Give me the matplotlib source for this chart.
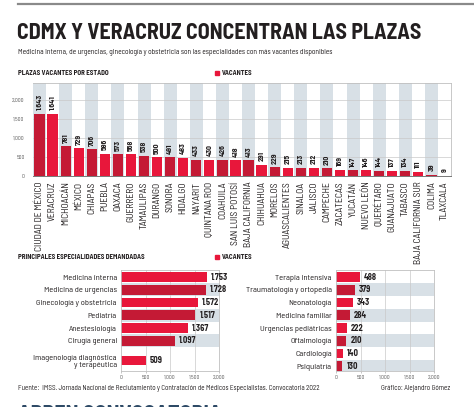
import matplotlib
matplotlib.use("Agg")
import matplotlib.pyplot as plt
from matplotlib.lines import Line2D
from matplotlib.ticker import FuncFormatter

plt.rcParams['font.family'] = ['Barlow Semi Condensed', 'DejaVu Sans']

# datos
estados = ['CIUDAD DE MÉXICO', 'VERACRUZ', 'MICHOACÁN', 'MÉXICO', 'CHIAPAS', 'PUEBLA', 'OAXACA',
           'GUERRERO', 'TAMAULIPAS', 'DURANGO', 'SONORA', 'HIDALGO', 'NAYARIT', 'QUINTANA ROO',
           'COAHUILA', 'SAN LUIS POTOSÍ', 'BAJA CALIFORNIA', 'CHIHUAHUA', 'MORELOS', 'AGUASCALIENTES',
           'SINALOA', 'JALISCO', 'CAMPECHE', 'ZACATECAS', 'YUCATÁN', 'NUEVO LEÓN', 'QUERÉTARO',
           'GUANAJUATO', 'TABASCO', 'BAJA CALIFORNIA SUR', 'COLIMA', 'TLAXCALA']
vacantes = [1643, 1641, 781, 729, 706, 586, 573, 568, 538, 500, 491, 483, 433, 430, 426, 418,
            413, 291, 229, 215, 213, 212, 210, 169, 147, 146, 144, 137, 134, 111, 39, 9]

esp_izq = ['Medicina interna', 'Medicina de urgencias', 'Ginecología y obstetricia', 'Pediatría',
           'Anestesiología', 'Cirugía general', 'Imagenología diagnóstica\ny terapéutica']
val_izq = [1753, 1728, 1572, 1517, 1367, 1097, 509]
pos_izq = [0, 1, 2, 3, 4, 5, 6.56]

esp_der = ['Terapia intensiva', 'Traumatología y ortopedia', 'Neonatología', 'Medicina familiar',
           'Urgencias pediátricas', 'Oftalmología', 'Cardiología', 'Psiquiatría']
val_der = [488, 379, 343, 284, 222, 210, 140, 130]

ROJO = '#e8173b'
ROJO_OSC = '#c41a35'
BANDA = '#d8e0e6'
GRID = '#c9c9c9'
TXT = '#231f20'

W, H = 474, 407
fig = plt.figure(figsize=(W / 100, H / 100), dpi=100)


def ax_px(x0, y0, x1, y1):
    return fig.add_axes([x0 / W, 1 - y1 / H, (x1 - x0) / W, (y1 - y0) / H])


def txt(x, y, s, **kw):
    return fig.text(x / W, 1 - y / H, s, **kw)


def miles(v):
    return f'{v:,}'.replace(',', '.')


# encabezado
fig.add_artist(Line2D([18 / W, 1], [1 - 3.5 / H] * 2, color='#8a8a8a', lw=1.6))
txt(17, 33, 'CDMX Y VERACRUZ CONCENTRAN LAS PLAZAS', fontsize=15.8, fontweight='bold',
    color=TXT, va='center')
txt(18, 52, 'Medicina interna, de urgencias, ginecología y obstetricia son las especialidades '
    'con más vacantes disponibles', fontsize=5.4, color=TXT, va='center')
txt(18, 73, 'PLAZAS VACANTES POR ESTADO', fontsize=5, fontweight='bold', color=TXT, va='center')
txt(18, 257, 'PRINCIPALES ESPECIALIDADES DEMANDADAS', fontsize=5, fontweight='bold',
    color=TXT, va='center')
for yy in (73, 257):
    fig.add_artist(Line2D([216.5 / W], [1 - yy / H], marker='s', ms=3.2, color=ROJO, lw=0))
    txt(222, yy, 'VACANTES', fontsize=5, fontweight='bold', color=TXT, va='center')

# grafica por estado
ax = ax_px(33, 83, 451, 176)
n = len(estados)
xs = list(range(n))
for i in xs:
    if i % 2 == 0:
        ax.axvspan(i - 0.5, i + 0.5, color=BANDA, lw=0, zorder=0)
for g in (500, 1000, 1500, 2000):
    ax.axhline(g, color=GRID, lw=0.5, zorder=1)
cols = [ROJO_OSC if i % 2 == 0 else ROJO for i in xs]
ax.bar(xs, vacantes, width=0.78, color=cols, zorder=2)
for i, v in zip(xs, vacantes):
    ax.annotate(miles(v), (i, v), xytext=(0, 2.5), textcoords='offset points', rotation=90,
                ha='center', va='bottom', fontsize=5.6, fontweight='bold', color=TXT)
ax.set_xlim(-0.5, n - 0.5)
ax.set_ylim(0, 2450)
ax.set_yticks([0, 500, 1000, 1500, 2000])
ax.yaxis.set_major_formatter(FuncFormatter(lambda v, p: f'{int(v):,}'))
ax.tick_params(axis='y', length=0, labelsize=4, pad=6, labelcolor='#555555')
ax.set_xticks(xs)
ax.set_xticklabels(estados, rotation=90, fontsize=6.9, color=TXT)
ax.tick_params(axis='x', length=0, pad=4)
ax.spines['left'].set_visible(False)
for s in ('top', 'right'):
    ax.spines[s].set_color('#bfbfbf')
    ax.spines[s].set_linewidth(0.6)
ax.spines['bottom'].set_color('#777777')
ax.spines['bottom'].set_linewidth(0.7)


def barras_h(axh, pos, vals, labels):
    for k, p in enumerate(pos):
        if k % 2 == 1:
            axh.axhspan(p - 0.5, p + 0.5, color=BANDA, lw=0, zorder=0)
    for g in (500, 1000, 1500):
        axh.axvline(g, color=GRID, lw=0.5, zorder=1)
    c = [ROJO_OSC if k % 2 == 1 else ROJO for k in range(len(vals))]
    axh.barh(pos, vals, height=0.75, color=c, zorder=2)
    for p, v in zip(pos, vals):
        axh.annotate(miles(v), (v, p), xytext=(3, 0), textcoords='offset points',
                     ha='left', va='center', fontsize=6.2, fontweight='bold', color=TXT)
    axh.set_xlim(0, 2000)
    axh.set_ylim(7.37, -0.55)
    axh.set_yticks(pos)
    axh.set_yticklabels(labels, fontsize=6.1, color=TXT, linespacing=1.15)
    axh.tick_params(axis='y', length=0, pad=3)
    axh.set_xticks([0, 500, 1000, 1500, 2000])
    axh.xaxis.set_major_formatter(FuncFormatter(lambda v, p: f'{int(v):,}'))
    axh.tick_params(axis='x', length=1.5, width=0.4, labelsize=4, pad=1.5,
                    labelcolor='#555555', color='#999999')
    for s in axh.spines.values():
        s.set_color('#bfbfbf')
        s.set_linewidth(0.6)


ax_l = ax_px(121, 270, 219, 371)
barras_h(ax_l, pos_izq, val_izq, esp_izq)
ax_r = ax_px(336, 270, 434, 371)
barras_h(ax_r, list(range(len(val_der))), val_der, esp_der)

# pie
txt(18, 388, 'Fuente:  IMSS. Jornada Nacional de Reclutamiento y Contratación de Médicos '
    'Especialistas. Convocatoria 2022', fontsize=5.1, color=TXT, va='center')
txt(450, 388, 'Gráfico: Alejandro Gómez', fontsize=5.1, color=TXT, va='center', ha='right')
txt(18, 405, 'ABREN CONVOCATORIA', fontsize=15.8, fontweight='bold', color='#2e4a66', va='top')

fig.savefig('out.png', dpi=100)
